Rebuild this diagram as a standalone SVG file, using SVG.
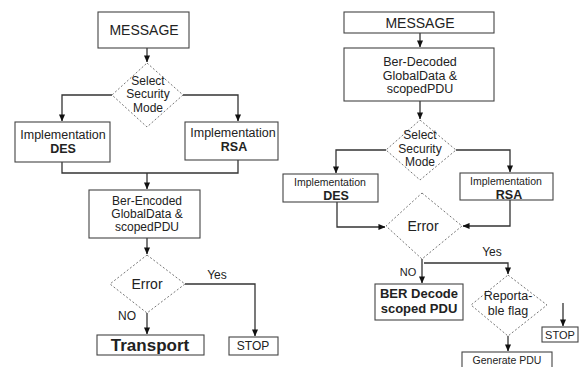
<svg xmlns="http://www.w3.org/2000/svg" width="583" height="367" viewBox="0 0 583 367">
<defs>
<marker id="ah" viewBox="0 0 8 8" refX="7.5" refY="4" markerWidth="7" markerHeight="7" markerUnits="userSpaceOnUse" orient="auto">
<path d="M0,0.5 L8,4 L0,7.5 Z" fill="#111"/>
</marker>
<style>
.box{fill:#fff;stroke:#444;stroke-width:1.1}
.dia{fill:#fff;stroke:#777;stroke-width:1;stroke-dasharray:2 2}
.cn{fill:none;stroke:#333;stroke-width:1.3}
text{font-family:"Liberation Sans",Arial,sans-serif;fill:#222;text-anchor:middle}
.b{font-weight:bold}
</style>
</defs>
<rect width="583" height="367" fill="#fff"/>

<g id="connectors">
<!-- left -->
<path class="cn" d="M147,48 V62" marker-end="url(#ah)"/>
<path class="cn" d="M112,95 H62 V121" marker-end="url(#ah)"/>
<path class="cn" d="M183,95 H238 V121" marker-end="url(#ah)"/>
<path class="cn" d="M62,162 V173 H238 V160"/>
<path class="cn" d="M147,173 V189" marker-end="url(#ah)"/>
<path class="cn" d="M147,238 V254" marker-end="url(#ah)"/>
<path class="cn" d="M147,313 V334" marker-end="url(#ah)"/>
<path class="cn" d="M185,284 H255 V336" marker-end="url(#ah)"/>
<!-- right -->
<path class="cn" d="M420,33 V47" marker-end="url(#ah)"/>
<path class="cn" d="M420,101 V119" marker-end="url(#ah)"/>
<path class="cn" d="M386,150 H336 V173" marker-end="url(#ah)"/>
<path class="cn" d="M456,150 H510 V172" marker-end="url(#ah)"/>
<path class="cn" d="M337,202 V227 H385" marker-end="url(#ah)"/>
<path class="cn" d="M510,200 V226 H463" marker-end="url(#ah)"/>
<path class="cn" d="M422,259 V283" marker-end="url(#ah)"/>
<path class="cn" d="M424,263 H508 V274" marker-end="url(#ah)"/>
<path class="cn" d="M508,336 V351" marker-end="url(#ah)"/>
<path class="cn" d="M563,303 V326" marker-end="url(#ah)"/>
</g>

<!-- LEFT FLOW -->
<g id="l-message">
<rect class="box" x="98" y="12" width="91" height="36"/>
<text x="144" y="35" font-size="14">MESSAGE</text>
</g>
<g id="l-select">
<polygon class="dia" points="147,63 183,95 147,127 112,95"/>
<text x="148" y="85" font-size="12">Select</text>
<text x="148" y="98" font-size="12">Security</text>
<text x="148" y="112" font-size="12">Mode</text>
</g>
<g id="l-des">
<rect class="box" x="15" y="122" width="95" height="40"/>
<text x="63" y="139" font-size="12.5">Implementation</text>
<text x="63" y="153" font-size="12.5" class="b">DES</text>
</g>
<g id="l-rsa">
<rect class="box" x="185" y="122" width="93" height="38"/>
<text x="233" y="137" font-size="12.5">Implementation</text>
<text x="234" y="151" font-size="12.5" class="b">RSA</text>
</g>
<g id="l-encoded">
<rect class="box" x="89" y="190" width="111" height="48"/>
<text x="147" y="205" font-size="12">Ber-Encoded</text>
<text x="147" y="218" font-size="12">GlobalData &amp;</text>
<text x="147" y="231" font-size="12">scopedPDU</text>
</g>
<g id="l-error">
<polygon class="dia" points="147,255 185,284 147,313 110,284"/>
<text x="147" y="289" font-size="14">Error</text>
</g>
<g id="l-transport">
<rect class="box" x="97" y="335" width="107" height="20"/>
<text x="150" y="351" font-size="17" class="b">Transport</text>
</g>
<g id="l-stop">
<rect class="box" x="229" y="337" width="49" height="18"/>
<text x="253" y="350" font-size="12">STOP</text>
</g>
<g id="l-labels">
<text x="127" y="320" font-size="12">NO</text>
<text x="217" y="279" font-size="12">Yes</text>
</g>

<!-- RIGHT FLOW -->
<g id="r-message">
<rect class="box" x="344" y="12" width="150" height="21"/>
<text x="420" y="28" font-size="14">MESSAGE</text>
</g>
<g id="r-decoded">
<rect class="box" x="344" y="48" width="150" height="53"/>
<text x="420" y="66" font-size="12.5">Ber-Decoded</text>
<text x="420" y="79.5" font-size="12.5">GlobalData &amp;</text>
<text x="420" y="93" font-size="12.5">scopedPDU</text>
</g>
<g id="r-select">
<polygon class="dia" points="420,120 456,150 420,180 386,150"/>
<text x="420" y="139" font-size="12">Select</text>
<text x="420" y="153" font-size="12">Security</text>
<text x="420" y="166" font-size="12">Mode</text>
</g>
<g id="r-des">
<rect class="box" x="283" y="174" width="95" height="28"/>
<text x="330" y="185.5" font-size="10.5">Implementation</text>
<text x="336" y="200" font-size="12.5" class="b">DES</text>
</g>
<g id="r-rsa">
<rect class="box" x="460" y="173" width="93" height="27"/>
<text x="506" y="184.5" font-size="10.5">Implementation</text>
<text x="509" y="199" font-size="12.5" class="b">RSA</text>
</g>
<g id="r-error">
<polygon class="dia" points="422,193 462,226 422,259 386,226"/>
<text x="423" y="231" font-size="14">Error</text>
</g>
<g id="r-berdecode">
<rect class="box" x="375" y="284" width="88" height="36"/>
<text x="419" y="298" font-size="13" class="b">BER Decode</text>
<text x="419" y="313" font-size="13" class="b">scoped PDU</text>
</g>
<g id="r-reportable">
<polygon class="dia" points="508,275 547,305 508,336 471,305"/>
<text x="508" y="300" font-size="12.5">Reporta-</text>
<text x="508" y="315" font-size="12.5">ble flag</text>
</g>
<g id="r-generate">
<rect class="box" x="462" y="352" width="90" height="20"/>
<text x="507" y="364" font-size="10.5">Generate PDU</text>
</g>
<g id="r-stop">
<rect class="box" x="542" y="327" width="36" height="15"/>
<text x="560" y="339" font-size="11">STOP</text>
</g>
<g id="r-labels">
<text x="408" y="276" font-size="11">NO</text>
<text x="492" y="256" font-size="12">Yes</text>
</g>
</svg>
